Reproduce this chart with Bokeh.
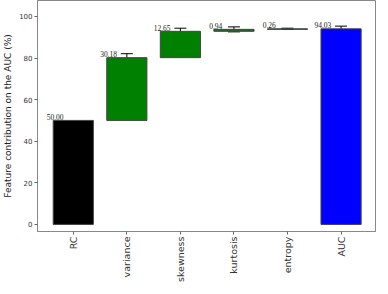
from bokeh.plotting import figure
from bokeh.models import ColumnDataSource, FixedTicker, Whisker, TeeHead, Range1d, LabelSet
from bokeh.embed import file_html
from bokeh.resources import INLINE

categories = ["RC", "variance", "skewness", "kurtosis", "entropy", "AUC"]
contributions = [50.00, 30.18, 12.65, 0.94, 0.26, 94.03]
errors = [0.0, 1.9, 1.5, 1.2, 0.3, 1.3]
colors = ["black", "green", "green", "green", "green", "blue"]
label_texts = ["50.00", "30.18", "12.65", "0.94", "0.26", "94.03"]

# waterfall bottoms/tops
bottoms, tops = [], []
cum = 0.0
for i, c in enumerate(contributions):
    if i == len(contributions) - 1:
        bottoms.append(0.0)
        tops.append(c)
    else:
        bottoms.append(cum)
        cum += c
        tops.append(cum)

xs = list(range(len(categories)))
src = ColumnDataSource(dict(
    x=xs, bottom=bottoms, top=tops, color=colors,
    upper=[t + e for t, e in zip(tops, errors)],
    lower=[t - e for t, e in zip(tops, errors)],
    lx=[x - 0.34 for x in xs], ly=[t + 0.3 for t in tops], txt=label_texts,
))
esrc = ColumnDataSource(dict(
    x=xs[1:], upper=src.data["upper"][1:], lower=src.data["lower"][1:],
))

p = figure(width=380, height=286, output_backend="svg", toolbar_location=None,
           x_range=Range1d(-0.668, 5.643), y_range=Range1d(-3.4, 107.65),
           min_border_left=32, min_border_top=0, min_border_right=5, min_border_bottom=55)

p.vbar(x="x", bottom="bottom", top="top", width=0.75, fill_color="color",
       line_color="#444444", line_width=1, source=src)

w = Whisker(base="x", upper="upper", lower="lower", source=esrc,
            line_color="black", line_width=1,
            upper_head=TeeHead(size=12, line_color="black", line_width=1),
            lower_head=TeeHead(size=12, line_color="black", line_width=1))
p.add_layout(w)

labels = LabelSet(x="lx", y="ly", text="txt", source=src, text_align="center",
                  text_baseline="bottom", text_font_size="7.5px",
                  text_font="DejaVu Sans", text_color="#222222")
p.add_layout(labels)

p.grid.visible = False
p.outline_line_color = "#888888"
p.outline_line_width = 1

p.xaxis.ticker = FixedTicker(ticks=xs)
p.xaxis.major_label_overrides = {i: c for i, c in enumerate(categories)}
p.xaxis.major_label_orientation = 1.5708
p.xaxis.major_label_text_font_size = "9.5px"
p.xaxis.major_label_text_font = "DejaVu Sans"
p.xaxis.major_label_text_color = "#333333"
p.xaxis.major_label_standoff = 2
p.xaxis.axis_label_standoff = 0

p.yaxis.ticker = FixedTicker(ticks=[0, 20, 40, 60, 80, 100])
p.yaxis.major_label_text_font_size = "7px"
p.yaxis.major_label_text_font = "DejaVu Sans"
p.yaxis.major_label_text_color = "#333333"
p.yaxis.major_label_standoff = 2
p.yaxis.axis_label = "Feature contribution on the AUC (%)"
p.yaxis.axis_label_text_font_size = "9px"
p.yaxis.axis_label_text_font = "DejaVu Sans"
p.yaxis.axis_label_text_font_style = "normal"
p.yaxis.axis_label_text_color = "#222222"
p.yaxis.axis_label_standoff = 3

for ax in (p.xaxis, p.yaxis):
    ax.axis_line_color = "#888888"
    ax.major_tick_line_color = "#666666"
    ax.major_tick_out = 3
    ax.major_tick_in = 0
    ax.minor_tick_line_color = None

open("out.html", "w").write(file_html(p, INLINE))
